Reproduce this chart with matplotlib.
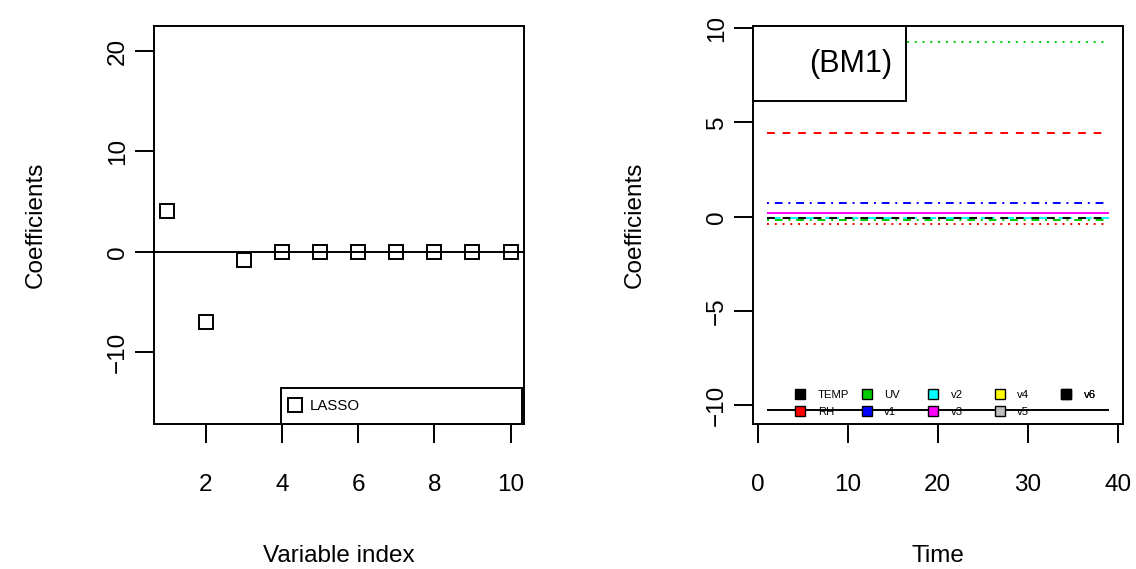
import numpy as np
import matplotlib.pyplot as plt
from matplotlib.lines import Line2D

plt.rcParams['font.family'] = ['Liberation Sans', 'DejaVu Sans']

# left panel: lasso coefficients by variable index
var_index = [1, 2, 3, 4, 5, 6, 7, 8, 9, 10]
lasso_coef = [4.08, -7.0, -0.82, 0, 0, 0, 0, 0, 0, 0]

# right panel: coefficients over time (constant per variable)
var_names = ['TEMP', 'RH', 'UV', 'v1', 'v2', 'v3', 'v4', 'v5', 'v6']
bm1_coef = [-10.26, 4.42, 9.28, 0.74, -0.06, 0.21, -0.09, -0.36, -0.17]
t_first = 1
t_last = 39

# R style colours / line types
line_cols = ['black', '#FF0000', '#00CD00', '#0000FF', '#00FFFF', '#FF00FF',
             'black', '#FF0000', '#00CD00']
lty = {'solid': '-', 'dashed': (0, (4, 4)), 'dotted': (0, (1, 3)),
       'dotdash': (0, (1, 3, 4, 3)), 'longdash': (0, (7, 3))}
line_types = ['solid', 'dashed', 'dotted', 'dotdash', 'longdash',
              'solid', 'dashed', 'dotted', 'dotdash']
legend_cols = ['black', '#FF0000', '#00CD00', '#0000FF', '#00FFFF', '#FF00FF',
               '#FFFF00', '#BEBEBE', 'black']

LW = 1.4
FS = 17.5

fig = plt.figure(figsize=(11.36, 5.69), dpi=100)
ax1 = fig.add_axes([0.1353, 0.2548, 0.3262, 0.6995])
ax2 = fig.add_axes([0.6626, 0.2548, 0.3262, 0.6995])

def r_axes(ax):
    for s in ax.spines.values():
        s.set_linewidth(LW)
    ax.tick_params(direction='out', length=13.7, width=LW, labelsize=FS)
    ax.tick_params(axis='x', pad=22.5)
    ax.tick_params(axis='y', pad=4)
    for lab in ax.get_yticklabels():
        lab.set_rotation(90)
        lab.set_va('center')
    ax.set_ylabel('Coefficients', fontsize=FS)
    ax.yaxis.label.set_va('center')
    ax.yaxis.set_label_coords(-0.317, 0.5)
    ax.xaxis.label.set_va('center')

# ---- left panel ----
ax1.plot(var_index, lasso_coef, linestyle='none', marker='s', ms=10,
         mfc='white', mec='black', mew=LW, label='LASSO')
ax1.axhline(0, color='black', lw=LW)
ax1.set_xlim(0.64, 10.36)
ax1.set_ylim(-17.18, 22.5)
ax1.set_xticks([2, 4, 6, 8, 10])
ax1.set_yticks([-10, 0, 10, 20])
r_axes(ax1)
ax1.set_xlabel('Variable index', fontsize=FS)
ax1.xaxis.set_label_coords(0.5, -0.332)
leg1 = ax1.legend(loc='lower left', bbox_to_anchor=(0.3435, 0, 0.6496, 0.09),
                  mode='expand', borderaxespad=0, fontsize=10.8,
                  fancybox=False, framealpha=1, borderpad=0.75,
                  handlelength=0.36, handletextpad=0.78)
leg1.get_frame().set_edgecolor('black')
leg1.get_frame().set_linewidth(LW)

# ---- right panel ----
for i in range(len(var_names)):
    ax2.hlines(bm1_coef[i], t_first, t_last, colors=line_cols[i],
               linestyles=[lty[line_types[i]]], lw=LW)
ax2.set_xlim(-0.55, 40.6)
ax2.set_ylim(-11.0, 10.12)
ax2.set_xticks([0, 10, 20, 30, 40])
ax2.set_yticks([-10, -5, 0, 5, 10])
r_axes(ax2)
ax2.set_xlabel('Time', fontsize=FS)
ax2.xaxis.set_label_coords(0.5, -0.332)

# (BM1) box
leg2 = ax2.legend([Line2D([], [], linestyle='none')], ['(BM1)'],
                  loc='upper left', bbox_to_anchor=(0, 1, 0.4128, 0),
                  mode='expand', borderaxespad=0, fontsize=22,
                  fancybox=False, framealpha=1, borderpad=0.74,
                  handlelength=0.7, handletextpad=0.4)
leg2.get_frame().set_edgecolor('black')
leg2.get_frame().set_linewidth(LW)
ax2.add_artist(leg2)

# variable key, one legend per column of two
col_x0 = 0.113
col_dx = 0.1794
for c in range(5):
    names = var_names[2 * c:2 * c + 2]
    cols = legend_cols[2 * c:2 * c + 2]
    hs = [Line2D([], [], linestyle='none', marker='s', ms=7, mfc=cc,
                 mec='black', mew=1.0) for cc in cols]
    lg = ax2.legend(hs, names, loc='upper left',
                    bbox_to_anchor=(col_x0 + c * col_dx, 0.085),
                    frameon=False, borderpad=0, borderaxespad=0,
                    fontsize=8.2, handlelength=1.0, handletextpad=1.05,
                    labelspacing=0.58)
    ax2.add_artist(lg)

fig.savefig('out.png', dpi=100)
